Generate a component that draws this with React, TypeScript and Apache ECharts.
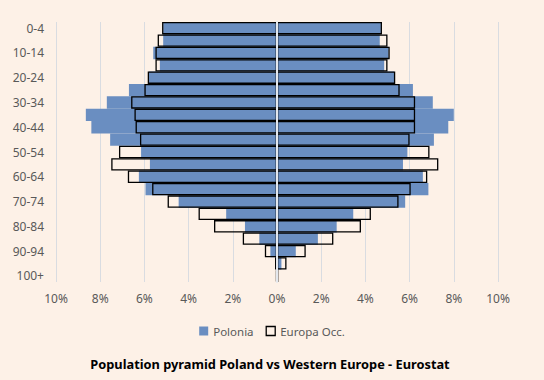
import React, { useEffect, useRef } from "react";
import * as echarts from "echarts";

const ageGroups = [
  "0-4", "5-9", "10-14", "15-19", "20-24", "25-29", "30-34", "35-39", "40-44", "45-49",
  "50-54", "55-59", "60-64", "65-69", "70-74", "75-79", "80-84", "85-89", "90-94", "95-99", "100+",
];

// percentages (left side = men, right side = women)
const polandLeft = [5.15, 5.15, 5.6, 5.3, 5.8, 6.7, 7.7, 8.65, 8.4, 7.55, 6.15, 5.75, 6.25, 5.95, 4.45, 2.3, 1.45, 0.8, 0.3, 0.05, 0.01];
const polandRight = [4.7, 4.65, 5.05, 4.85, 5.3, 6.15, 7.05, 8.0, 7.75, 7.1, 5.9, 5.7, 6.6, 6.85, 5.8, 3.45, 2.7, 1.85, 0.85, 0.2, 0.03];
const westLeft = [5.2, 5.4, 5.5, 5.5, 5.85, 6.0, 6.6, 6.45, 6.4, 6.2, 7.15, 7.5, 6.75, 5.65, 4.95, 3.55, 2.85, 1.55, 0.55, 0.09, 0.05];
const westRight = [4.75, 5.0, 5.1, 5.0, 5.35, 5.55, 6.25, 6.25, 6.25, 6.0, 6.9, 7.3, 6.8, 6.05, 5.5, 4.25, 3.8, 2.55, 1.3, 0.43, 0.06];

const xTicks = { min: -10, max: 10, interval: 2 };

const BLUE = "#6a8ec1";
const BG = "#fdf1e7";
const FONT = "'Noto Sans', 'Open Sans', sans-serif";

export default function App() {
  const ref = useRef<HTMLDivElement>(null);

  useEffect(() => {
    if (!ref.current) return;
    const chart = echarts.init(ref.current, null, { renderer: "svg" });
    const neg = (a: number[]) => a.map((v) => -v);
    const blueStyle = { color: BLUE };
    const outlineStyle = { color: "rgba(0,0,0,0)", borderColor: "#000", borderWidth: 1.3 };
    chart.setOption({
      animation: false,
      backgroundColor: BG,
      textStyle: { fontFamily: FONT },
      title: {
        text: "Population pyramid Poland vs Western Europe - Eurostat",
        left: 265,
        textAlign: "center",
        top: 352,
        textStyle: { fontFamily: FONT, fontSize: 12.8, fontWeight: "bold", color: "#000" },
      },
      legend: {
        data: [
          { name: "Polonia", itemStyle: { color: BLUE } },
          { name: "Europa Occ.", itemStyle: { color: "rgba(0,0,0,0)", borderColor: "#000", borderWidth: 1.3 } },
        ],
        left: "center",
        top: 320,
        icon: "rect",
        itemWidth: 9,
        itemHeight: 9,
        itemGap: 12,
        textStyle: { fontFamily: FONT, fontSize: 11.5, color: "#595959" },
      },
      grid: { left: 56, right: 46, top: 22, bottom: 98, containLabel: false },
      xAxis: {
        type: "value",
        min: xTicks.min,
        max: xTicks.max,
        interval: xTicks.interval,
        axisLine: { show: false },
        axisTick: { show: false },
        axisLabel: {
          formatter: (v: number) => Math.abs(v) + "%",
          color: "#595959",
          fontSize: 12,
          fontFamily: FONT,
          margin: 10,
        },
        splitLine: { show: true, lineStyle: { color: "#d9dce1", width: 1 } },
      },
      yAxis: {
        type: "category",
        data: ageGroups,
        inverse: true,
        z: 5,
        axisLine: { show: true, onZero: true, lineStyle: { color: "#e4e8ee", width: 2 } },
        axisTick: { show: false },
        axisLabel: {
          interval: 1,
          color: "#595959",
          fontSize: 12,
          fontFamily: FONT,
          margin: 12,
        },
        splitLine: { show: false },
      },
      series: [
        { name: "Polonia", type: "bar", data: neg(polandLeft), itemStyle: blueStyle, barCategoryGap: 0, barGap: "-100%" },
        { name: "Polonia", type: "bar", data: polandRight, itemStyle: blueStyle, barCategoryGap: 0, barGap: "-100%" },
        { name: "Europa Occ.", type: "bar", data: neg(westLeft), itemStyle: outlineStyle, barCategoryGap: 0, barGap: "-100%" },
        { name: "Europa Occ.", type: "bar", data: westRight, itemStyle: outlineStyle, barCategoryGap: 0, barGap: "-100%" },
      ],
    });
    return () => chart.dispose();
  }, []);

  return (
    <div
      ref={ref}
      style={{ position: "fixed", left: 0, top: 0, width: 544, height: 380, background: BG }}
    />
  );
}
